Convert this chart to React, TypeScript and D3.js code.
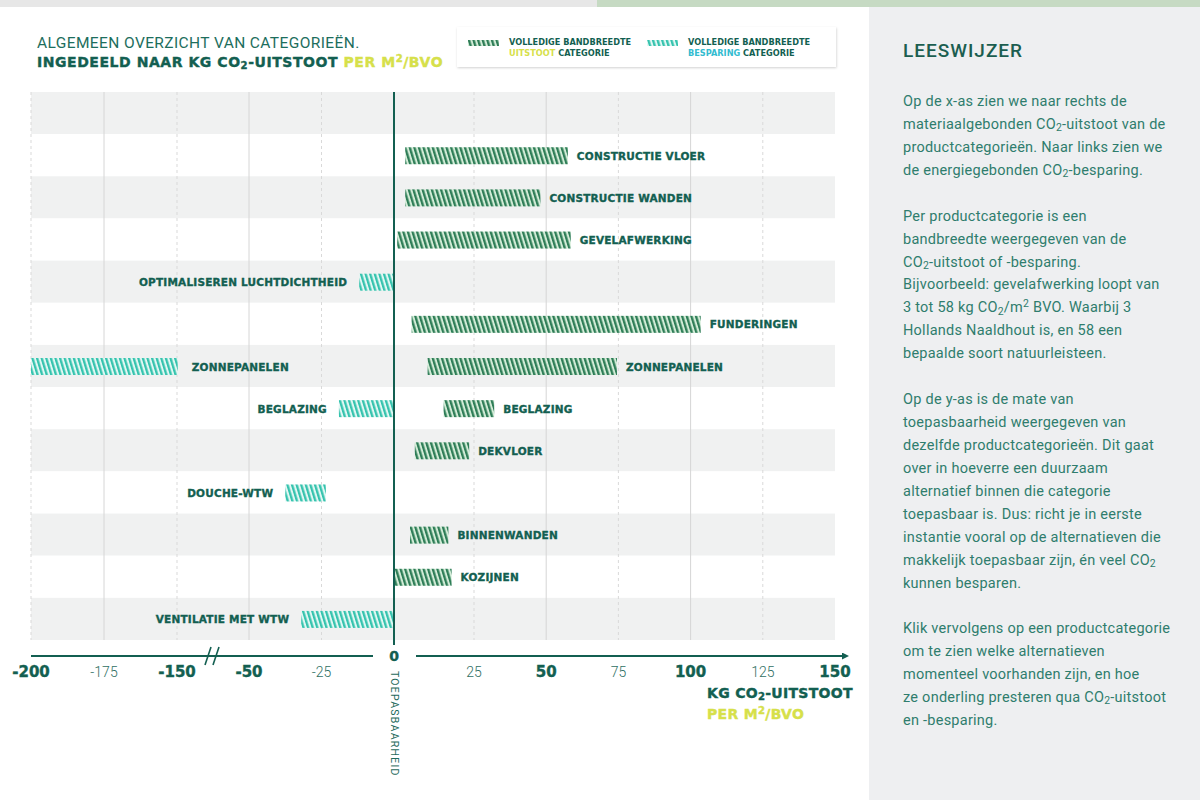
import React from "react";
import * as d3 from "d3";

// ---------- DATA ----------
const rowLabels = [
  "",
  "CONSTRUCTIE VLOER",
  "CONSTRUCTIE WANDEN",
  "GEVELAFWERKING",
  "OPTIMALISEREN LUCHTDICHTHEID",
  "FUNDERINGEN",
  "ZONNEPANELEN",
  "BEGLAZING",
  "DEKVLOER",
  "DOUCHE-WTW",
  "BINNENWANDEN",
  "KOZIJNEN",
  "VENTILATIE MET WTW",
];

// uitstoot (emission) ranges, kg CO2 / m2 BVO
const uitstootCategories = [
  "CONSTRUCTIE VLOER",
  "CONSTRUCTIE WANDEN",
  "GEVELAFWERKING",
  "FUNDERINGEN",
  "ZONNEPANELEN",
  "BEGLAZING",
  "DEKVLOER",
  "BINNENWANDEN",
  "KOZIJNEN",
];
const uitstootMin = [3.5, 3.5, 1, 5.5, 10.5, 15.5, 6.5, 5, 0];
const uitstootMax = [57.5, 48, 58.5, 103.5, 74.5, 32, 23.5, 17, 18];

// besparing (saving) ranges
const besparingCategories = [
  "OPTIMALISEREN LUCHTDICHTHEID",
  "ZONNEPANELEN",
  "BEGLAZING",
  "DOUCHE-WTW",
  "VENTILATIE MET WTW",
];
const besparingMin = [-12, -200, -19, -37.5, -32];
const besparingMax = [0, -149, 0, -23.5, 0];

// axis ticks
const tickValues = [-200, -175, -150, -50, -25, 25, 50, 75, 100, 125, 150];
const boldTicks = [-200, -150, -50, 50, 100, 150];
const solidGrid = [-175, -50, 50, 100];
const dashedGrid = [-200, -150, -25, 25, 75, 125];

const panelLines = [
  "Op de x-as zien we naar rechts de",
  "materiaalgebonden CO2-uitstoot van de",
  "productcategorieën. Naar links zien we",
  "de energiegebonden CO2-besparing.",
  "",
  "Per productcategorie is een",
  "bandbreedte weergegeven van de",
  "CO2-uitstoot of -besparing.",
  "Bijvoorbeeld: gevelafwerking loopt van",
  "3 tot 58 kg CO2/m2 BVO. Waarbij 3",
  "Hollands Naaldhout is, en 58 een",
  "bepaalde soort natuurleisteen.",
  "",
  "Op de y-as is de mate van",
  "toepasbaarheid weergegeven van",
  "dezelfde productcategorieën. Dit gaat",
  "over in hoeverre een duurzaam",
  "alternatief binnen die categorie",
  "toepasbaar is. Dus: richt je in eerste",
  "instantie vooral op de alternatieven die",
  "makkelijk toepasbaar zijn, én veel CO2",
  "kunnen besparen.",
  "",
  "Klik vervolgens op een productcategorie",
  "om te zien welke alternatieven",
  "momenteel voorhanden zijn, en hoe",
  "ze onderling presteren qua CO2-uitstoot",
  "en -besparing.",
];

// ---------- STYLE ----------
const DARK = "#135f51";
const TEAL_TEXT = "#2f7d6d";
const YELLOW = "#d6e04a";
const BOLD_FONT = "'DejaVu Sans', sans-serif";
const REG_FONT = "Roboto, 'Open Sans', sans-serif";

function rich(text: string, size: number) {
  const parts = text.split(/(CO2|M2|m2)/);
  const out: any[] = [];
  let shift = 0;
  parts.forEach((p, i) => {
    if (p === "CO2") {
      out.push(
        <tspan key={i + "a"} dy={-shift}>
          CO
        </tspan>
      );
      out.push(
        <tspan key={i + "b"} dy={size * 0.22} fontSize={size * 0.72}>
          2
        </tspan>
      );
      shift = size * 0.22;
    } else if (p === "M2" || p === "m2") {
      out.push(
        <tspan key={i + "a"} dy={-shift}>
          {p[0]}
        </tspan>
      );
      out.push(
        <tspan key={i + "b"} dy={-size * 0.3} fontSize={size * 0.72}>
          2
        </tspan>
      );
      shift = -size * 0.3;
    } else if (p.length) {
      out.push(
        <tspan key={i} dy={-shift}>
          {p}
        </tspan>
      );
      shift = 0;
    }
  });
  return out;
}

export default function App() {
  const W = 1200;
  const H = 800;

  const x = d3
    .scaleLinear()
    .domain([-200, -150, -50, 0, 25, 150])
    .range([31, 177, 249, 394, 474, 835]);

  const y = d3
    .scaleBand<number>()
    .domain(d3.range(rowLabels.length))
    .range([92, 640])
    .padding(0);

  const rowIndex = (name: string) => rowLabels.indexOf(name);
  const barH = 17;
  const cy = (name: string) => (y(rowIndex(name)) as number) + y.bandwidth() / 2 + 0.5;

  const labelStyle = {
    fontFamily: BOLD_FONT,
    fontWeight: 700,
    fontSize: 10.5,
    fill: DARK,
    stroke: DARK,
    strokeWidth: 0.35,
    letterSpacing: 0.2,
  } as any;

  const axisY = 656;

  return (
    <svg
      width={W}
      height={H}
      style={{ position: "absolute", left: 0, top: 0, display: "block", background: "#fff" }}
    >
      <defs>
        <pattern id="hatchU" patternUnits="userSpaceOnUse" width="4.4" height="10" patternTransform="rotate(-17)">
          <rect width="4.4" height="10" fill="#d3ecd7" />
          <rect width="2.3" height="10" fill="#2e7d57" />
        </pattern>
        <pattern id="hatchB" patternUnits="userSpaceOnUse" width="4.4" height="10" patternTransform="rotate(-17)">
          <rect width="4.4" height="10" fill="#e2f7f3" />
          <rect width="2.3" height="10" fill="#35c3ae" />
        </pattern>
        <filter id="shadow" x="-5%" y="-20%" width="110%" height="150%">
          <feDropShadow dx="0.5" dy="1" stdDeviation="1" floodColor="#000" floodOpacity="0.18" />
        </filter>
        <marker id="arrow" viewBox="0 0 10 10" refX="0" refY="5" markerWidth="7" markerHeight="7" orient="auto" markerUnits="userSpaceOnUse">
          <path d="M0,0 L10,5 L0,10 z" fill={DARK} />
        </marker>
      </defs>

      {/* top strips */}
      <rect x={0} y={0} width={597} height={7} fill="#e7e7e7" />
      <rect x={597} y={0} width={603} height={7} fill="#c6dac3" />

      {/* right panel */}
      <rect x={869} y={7} width={331} height={793} fill="#eeeff1" />
      <text x={903} y={50} dominantBaseline="central" fontFamily={REG_FONT} fontWeight={500} fontSize={19} fill="#1b5e50" letterSpacing={1}>
        LEESWIJZER
      </text>
      {panelLines.map((line, i) =>
        line ? (
          <text key={i} x={903} y={101 + i * 22.93} dominantBaseline="central" fontFamily={REG_FONT} fontSize={14.5} letterSpacing={0.25} fill={TEAL_TEXT}>
            {rich(line, 14.5)}
          </text>
        ) : null
      )}

      {/* title */}
      <text x={37} y={43} dominantBaseline="central" fontFamily={REG_FONT} fontSize={15.5} fill="#1d6e5d" letterSpacing={0.4}>
        ALGEMEEN OVERZICHT VAN CATEGORIEËN.
      </text>
      <text x={37} y={62} dominantBaseline="central" fontFamily={BOLD_FONT} fontWeight={700} fontSize={14} fill={DARK} stroke={DARK} strokeWidth={0.4} letterSpacing={0.55}>
        {rich("INGEDEELD NAAR KG CO2-UITSTOOT ", 14)}
        <tspan fill={YELLOW} stroke={YELLOW}>{rich("PER M2/BVO", 14)}</tspan>
      </text>

      {/* legend */}
      <rect x={457} y={27} width={379} height={40} fill="#fff" filter="url(#shadow)" />
      <rect x={468} y={40} width={31} height={6} fill="url(#hatchU)" />
      <text x={509} y={42} dominantBaseline="central" fontFamily={BOLD_FONT} fontWeight={700} fontSize={8.2} fill={DARK}>
        VOLLEDIGE BANDBREEDTE
      </text>
      <text x={509} y={53} dominantBaseline="central" fontFamily={BOLD_FONT} fontWeight={700} fontSize={8.2} fill={DARK}>
        <tspan fill={YELLOW}>UITSTOOT</tspan> CATEGORIE
      </text>
      <rect x={647} y={40} width={31} height={6} fill="url(#hatchB)" />
      <text x={688} y={42} dominantBaseline="central" fontFamily={BOLD_FONT} fontWeight={700} fontSize={8.2} fill={DARK}>
        VOLLEDIGE BANDBREEDTE
      </text>
      <text x={688} y={53} dominantBaseline="central" fontFamily={BOLD_FONT} fontWeight={700} fontSize={8.2} fill={DARK}>
        <tspan fill="#33bcd0">BESPARING</tspan> CATEGORIE
      </text>

      {/* row bands */}
      {rowLabels.map((_, i) => (
        <rect
          key={i}
          x={x(-200)}
          y={y(i) as number}
          width={x(150) - x(-200)}
          height={y.bandwidth()}
          fill={i % 2 === 0 ? "#f0f1f1" : "#ffffff"}
        />
      ))}

      {/* gridlines */}
      {solidGrid.map((v) => (
        <line key={"s" + v} x1={x(v)} x2={x(v)} y1={92} y2={640} stroke="#d6d6d6" strokeWidth={1} />
      ))}
      {dashedGrid.map((v) => (
        <line key={"d" + v} x1={x(v)} x2={x(v)} y1={92} y2={640} stroke="#d9d9d9" strokeWidth={1} strokeDasharray="3,3" />
      ))}

      {/* uitstoot bars */}
      {uitstootCategories.map((c, i) => {
        const x0 = x(uitstootMin[i]);
        const x1 = x(uitstootMax[i]);
        const yc = cy(c);
        return (
          <g key={"u" + i}>
            <rect x={x0} y={yc - barH / 2} width={x1 - x0} height={barH} fill="url(#hatchU)" />
            <text x={x1 + 9} y={yc} dominantBaseline="central" style={labelStyle}>
              {c}
            </text>
          </g>
        );
      })}

      {/* besparing bars */}
      {besparingCategories.map((c, i) => {
        const x0 = x(besparingMin[i]);
        const x1 = x(besparingMax[i]);
        const yc = cy(c);
        const atEdge = besparingMin[i] <= -200;
        return (
          <g key={"b" + i}>
            <rect x={x0} y={yc - barH / 2} width={x1 - x0} height={barH} fill="url(#hatchB)" />
            <text
              x={atEdge ? x1 + 14 : x0 - 12}
              y={yc}
              dominantBaseline="central"
              textAnchor={atEdge ? "start" : "end"}
              style={labelStyle}
            >
              {c}
            </text>
          </g>
        );
      })}

      {/* zero / vertical axis */}
      <line x1={x(0)} x2={x(0)} y1={92} y2={645} stroke={DARK} strokeWidth={2} />

      {/* horizontal axis */}
      <line x1={x(-200)} x2={373} y1={axisY} y2={axisY} stroke={DARK} strokeWidth={2} />
      <line x1={416} x2={842} y1={axisY} y2={axisY} stroke={DARK} strokeWidth={2} markerEnd="url(#arrow)" />
      {[208, 216].map((bx) => (
        <line key={bx} x1={bx - 3} x2={bx + 3} y1={665} y2={647} stroke={DARK} strokeWidth={1.6} />
      ))}

      <text x={x(0)} y={axisY} dominantBaseline="central" textAnchor="middle" fontFamily={BOLD_FONT} fontWeight={700} fontSize={14} fill={DARK} stroke={DARK} strokeWidth={0.4}>
        0
      </text>
      <text
        transform={`translate(${x(0)},671) rotate(90)`}
        dominantBaseline="central"
        fontFamily={REG_FONT}
        fontSize={10.5}
        fill="#1f6b5c"
        letterSpacing={1.25}
      >
        TOEPASBAARHEID
      </text>

      {tickValues.map((v) => {
        const bold = boldTicks.includes(v);
        return (
          <text
            key={"t" + v}
            x={x(v)}
            y={672}
            dominantBaseline="central"
            textAnchor="middle"
            fontFamily={bold ? BOLD_FONT : REG_FONT}
            fontWeight={bold ? 700 : 300}
            fontSize={bold ? 15 : 14}
            fill={bold ? DARK : "#2f6f63"}
            stroke={bold ? DARK : "none"}
            strokeWidth={bold ? 0.4 : 0}
          >
            {v}
          </text>
        );
      })}

      {/* axis title */}
      <text x={707} y={693} dominantBaseline="central" fontFamily={BOLD_FONT} fontWeight={700} fontSize={14} fill={DARK} stroke={DARK} strokeWidth={0.4} letterSpacing={0.3}>
        {rich("KG CO2-UITSTOOT", 14)}
      </text>
      <text x={707} y={714} dominantBaseline="central" fontFamily={BOLD_FONT} fontWeight={700} fontSize={14} fill={YELLOW} stroke={YELLOW} strokeWidth={0.4} letterSpacing={0.3}>
        {rich("PER M2/BVO", 14)}
      </text>
    </svg>
  );
}
